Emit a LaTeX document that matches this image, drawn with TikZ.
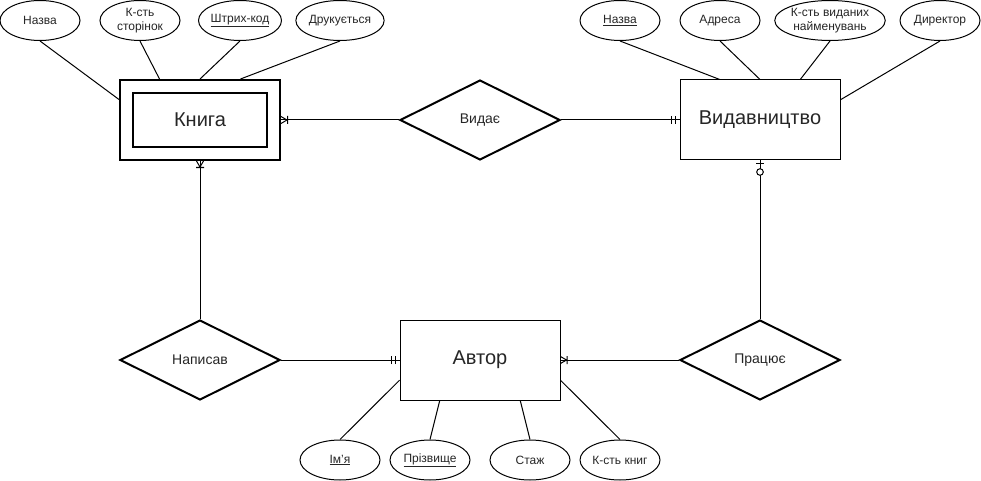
\documentclass[tikz,border=0pt]{standalone}
\usepackage{fontspec}
\setmainfont{Liberation Sans}
\usetikzlibrary{
    shapes.geometric,
    calc
}
\tikzset{%
    % Specifications for style of nodes:
    base/.style = {
        draw=black, text=black!85, align=center,
        inner sep=0pt, line width=1pt
    },
    entity/.style = {base, rectangle, minimum width=160pt, minimum height=80pt,
        font=\fontsize{20}{24}\selectfont},
    weak/.style = {entity, line width=2pt},
    weakin/.style = {base, rectangle, line width=2pt, minimum width=134pt,
        minimum height=54pt, font=\fontsize{20}{24}\selectfont},
    rel/.style = {base, diamond, line width=2pt, minimum width=160pt,
        minimum height=80pt, font=\fontsize{14}{16}\selectfont},
    attr/.style = {base, ellipse, minimum width=80pt, minimum height=40pt,
        font=\fontsize{12}{13.5}\selectfont},
    link/.style = {line width=1pt},
    % Specifications for the ends of connectors:
    crowfoot/.pic = {\draw[link] (0,3.5) -- (6,0) -- (0,-3.5) (6.5,-4) -- (6.5,4);},
    mandone/.pic = {\draw[link] (4,-4) -- (4,4) (8,-4) -- (8,4);},
    zeroone/.pic = {\draw[link] (3,-4) -- (3,4); \draw[link, fill=white] (11.5,0) circle (3.3);}
}
\begin{document}
\begin{tikzpicture}[x=1pt, y=-1pt]
    \useasboundingbox (0,0) rectangle (981,481);
    \fill[white] (0,0) rectangle (981,481);
    \node[weak] (E1) at (200,120) {};
    \node[weakin] (E1i) at (E1) {Книга};
    \node[entity] (E2) at (760,120) {Видавництво};
    \node[entity] (E3) at (480,360) {Автор};
    \node[rel] (R1) at (480,120) {Видає};
    \node[rel] (R2) at (200,360) {Написав};
    \node[rel] (R3) at (760,360) {Працює};
    \node[attr] (A1) at (40,20.5) {Назва};
    \node[attr] (A2) at (140,20.5) {К-сть\\сторінок};
    \node[attr] (A3) at (240,20.5) {\underline{Штрих-код}};
    \node[attr] (A4) at (340,20.5) {Друкується};
    \node[attr] (A5) at (620,20.5) {\underline{Назва}};
    \node[attr] (A6) at (720,20.5) {Адреса};
    \node[attr, minimum width=100pt] (A7) at (830,20.5) {К-сть виданих\\найменувань};
    \node[attr] (A8) at (940,20.5) {Директор};
    \node[attr] (A9) at (340,460) {\underline{Ім'я}};
    \node[attr] (A10) at (430,460) {\underline{Прізвище}};
    \node[attr] (A11) at (530,460) {Стаж};
    \node[attr] (A12) at (620,460) {К-сть книг};
    \draw[link] (A1.south) -- ($(E1.north west)!0.25!(E1.south west)$);
    \draw[link] (A2.south) -- ($(E1.north west)!0.25!(E1.north east)$);
    \draw[link] (A3.south) -- (E1.north);
    \draw[link] (A4.south) -- ($(E1.north west)!0.75!(E1.north east)$);
    \draw[link] (A5.south) -- ($(E2.north west)!0.25!(E2.north east)$);
    \draw[link] (A6.south) -- (E2.north);
    \draw[link] (A7.south) -- ($(E2.north west)!0.75!(E2.north east)$);
    \draw[link] (A8.south) -- ($(E2.north east)!0.25!(E2.south east)$);
    \draw[link] (A9.north) -- ($(E3.north west)!0.75!(E3.south west)$);
    \draw[link] (A10.north) -- ($(E3.south west)!0.25!(E3.south east)$);
    \draw[link] (A11.north) -- ($(E3.south west)!0.75!(E3.south east)$);
    \draw[link] (A12.north) -- ($(E3.north east)!0.75!(E3.south east)$);
    \draw[link] (R1.west) -- (E1.east);
    \draw[link] (R1.east) -- (E2.west);
    \draw[link] (E1.south) -- (R2.north);
    \draw[link] (R2.east) -- (E3.west);
    \draw[link] (R3.west) -- (E3.east);
    \draw[link] (R3.north) -- (E2.south);
    \pic at (E1.east) {crowfoot};
    \pic[rotate=-90] at (E1.south) {crowfoot};
    \pic at (E3.east) {crowfoot};
    \pic[rotate=180] at (E2.west) {mandone};
    \pic[rotate=180] at (E3.west) {mandone};
    \pic[rotate=-90] at (E2.south) {zeroone};
\end{tikzpicture}
\end{document}
